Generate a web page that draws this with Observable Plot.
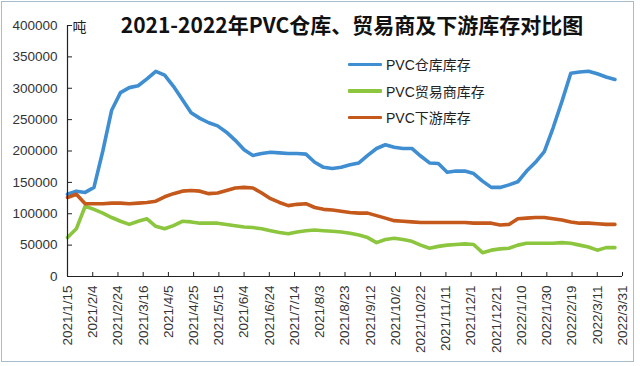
<!DOCTYPE html>
<html>
<head>
<meta charset="utf-8">
<script src="https://cdn.jsdelivr.net/npm/d3@7"></script>
<script src="https://cdn.jsdelivr.net/npm/@observablehq/plot@0.6"></script>
<style>
  html, body { margin: 0; padding: 0; background: #fff; }
  #wrap { position: relative; width: 640px; height: 366px; overflow: hidden; background: #fff; }
  #border { position: absolute; left: 1px; top: 1px; width: 633px; height: 361px; border: 1.5px solid #a7bccd; box-sizing: border-box; pointer-events: none; }
  #title { position: absolute; left: 352px; top: 10px; transform: translateX(-50%); white-space: nowrap;
           font-family: "Noto Sans CJK SC", sans-serif; font-weight: bold; font-size: 21px; line-height: 28px; color: #111; }
  #legend { position: absolute; left: 348px; top: 51px; font-family: "Liberation Sans", "Noto Sans CJK SC", sans-serif; font-size: 14px; color: #222; }
  .row { display: flex; align-items: center; height: 26.5px; }
  .sw { width: 34px; height: 3.5px; margin-right: 4px; border-radius: 1px; }
  #chart { position: absolute; left: 0; top: 0; }
</style>
</head>
<body>
<div id="wrap">
  <div id="chart"></div>
  <div id="title"></div>
  <div id="legend"></div>
  <div id="border"></div>
</div>
<script>
const titleText = "2021-2022年PVC仓库、贸易商及下游库存对比图";
const unitLabel = "吨";
const seriesNames = ["PVC仓库库存", "PVC贸易商库存", "PVC下游库存"];
const seriesColors = ["#3f8ed2", "#8cc63f", "#c5581b"];

const dates = [
  "2021-01-15","2021-01-22","2021-01-29","2021-02-05","2021-02-12","2021-02-19","2021-02-26",
  "2021-03-05","2021-03-12","2021-03-19","2021-03-26","2021-04-02","2021-04-09","2021-04-16",
  "2021-04-23","2021-04-30","2021-05-07","2021-05-14","2021-05-21","2021-05-28","2021-06-04",
  "2021-06-11","2021-06-18","2021-06-25","2021-07-02","2021-07-09","2021-07-16","2021-07-23",
  "2021-07-30","2021-08-06","2021-08-13","2021-08-20","2021-08-27","2021-09-03","2021-09-10",
  "2021-09-17","2021-09-24","2021-10-01","2021-10-08","2021-10-15","2021-10-22","2021-10-29",
  "2021-11-05","2021-11-12","2021-11-19","2021-11-26","2021-12-03","2021-12-10","2021-12-17",
  "2021-12-24","2021-12-31","2022-01-07","2022-01-14","2022-01-21","2022-01-28","2022-02-04",
  "2022-02-11","2022-02-18","2022-02-25","2022-03-04","2022-03-11","2022-03-18","2022-03-25"
];

const warehouse = [
  131000,136000,134000,142000,200000,265000,293000,301000,304000,315000,327000,321000,303000,282000,
  261000,252000,245000,240000,230000,217000,202000,193000,196000,198000,197000,196000,196000,195000,
  182000,174000,172000,174000,178000,181000,193000,204000,210000,206000,204000,204000,192000,181000,
  180000,166000,168000,168000,164000,152000,142000,142000,146000,151000,168000,182000,199000,237000,
  279000,324000,326000,327000,323000,318000,314000
];

const trader = [
  62000,76000,112000,107000,101000,94000,88000,83000,88000,92000,80000,76000,81000,88000,
  87000,85000,85000,85000,83000,81000,79000,78000,76000,73000,70000,68000,71000,73000,
  74000,73000,72000,71000,69000,66000,62000,54000,59000,61000,59000,56000,50000,45000,
  48000,50000,51000,52000,51000,38000,42000,44000,45000,50000,53000,53000,53000,53000,
  54000,53000,50000,47000,42000,46000,46000
];

const downstream = [
  126000,131000,116000,116000,116000,117000,117000,116000,117000,118000,120000,127000,132000,136000,
  137000,136000,132000,133000,137000,141000,142000,141000,133000,124000,118000,113000,115000,116000,
  110000,107000,106000,104000,102000,101000,101000,97000,93000,89000,88000,87000,86000,86000,
  86000,86000,86000,86000,85000,85000,85000,82000,83000,92000,93000,94000,94000,92000,
  90000,87000,85000,85000,84000,83000,83000
];

const xTicks = [
  "2021-01-15","2021-02-04","2021-02-24","2021-03-16","2021-04-05","2021-04-25","2021-05-15",
  "2021-06-04","2021-06-24","2021-07-14","2021-08-03","2021-08-23","2021-09-12","2021-10-02",
  "2021-10-22","2021-11-11","2021-12-01","2021-12-21","2022-01-10","2022-01-30","2022-02-19",
  "2022-03-11","2022-03-31"
];
const yTicks = [0, 50000, 100000, 150000, 200000, 250000, 300000, 350000, 400000];

const parse = s => new Date(s + "T00:00:00Z");
const allSeries = [warehouse, trader, downstream];
const rows = [];
allSeries.forEach((vals, k) => vals.forEach((v, i) => rows.push({date: parse(dates[i]), value: v, series: seriesNames[k]})));
const xTickDates = xTicks.map(parse);
const fmt = d => `${d.getUTCFullYear()}/${d.getUTCMonth() + 1}/${d.getUTCDate()}`;

const W = 640, H = 366, mL = 67, mR = 18, mT = 25, mB = 90;

const chart = Plot.plot({
  width: W, height: H,
  marginLeft: mL, marginRight: mR, marginTop: mT, marginBottom: mB,
  style: {fontFamily: '"Liberation Sans", "Noto Sans CJK SC", sans-serif', fontSize: "13.5px", color: "#333", background: "transparent"},
  x: {type: "utc", domain: [xTickDates[0], xTickDates[xTickDates.length - 1]]},
  y: {domain: [0, 400000]},
  color: {domain: seriesNames, range: seriesColors},
  marks: [
    Plot.axisY({ticks: yTicks, tickSize: 0, tickPadding: 10, tickFormat: d => String(d), label: null}),
    Plot.axisX({ticks: xTickDates, tickSize: 0, tickPadding: 9, tickRotate: -90, tickFormat: fmt, label: null}),
    Plot.tickY(yTicks, {y: d => d, stroke: "#222", insetRight: (W - mL - mR) - 5}),
    Plot.tickX(xTickDates, {x: d => d, stroke: "#222", insetTop: (H - mT - mB) - 4}),
    Plot.lineY(rows, {x: "date", y: "value", z: "series", stroke: "series", strokeWidth: 3.6, strokeLinejoin: "round", strokeLinecap: "round"}),
    Plot.ruleY([0], {stroke: "#222", strokeWidth: 1.2}),
    Plot.ruleX([xTickDates[0]], {stroke: "#222", strokeWidth: 1.2}),
    Plot.text([unitLabel], {frameAnchor: "top-left", dx: 5, dy: -3, textAnchor: "start", fontSize: 14, fill: "#222"})
  ]
});
document.getElementById("chart").appendChild(chart);

document.getElementById("title").textContent = titleText;
const legend = document.getElementById("legend");
seriesNames.forEach((name, k) => {
  const row = document.createElement("div");
  row.className = "row";
  const sw = document.createElement("div");
  sw.className = "sw";
  sw.style.background = seriesColors[k];
  const label = document.createElement("span");
  label.textContent = name;
  row.appendChild(sw);
  row.appendChild(label);
  legend.appendChild(row);
});
</script>
</body>
</html>
